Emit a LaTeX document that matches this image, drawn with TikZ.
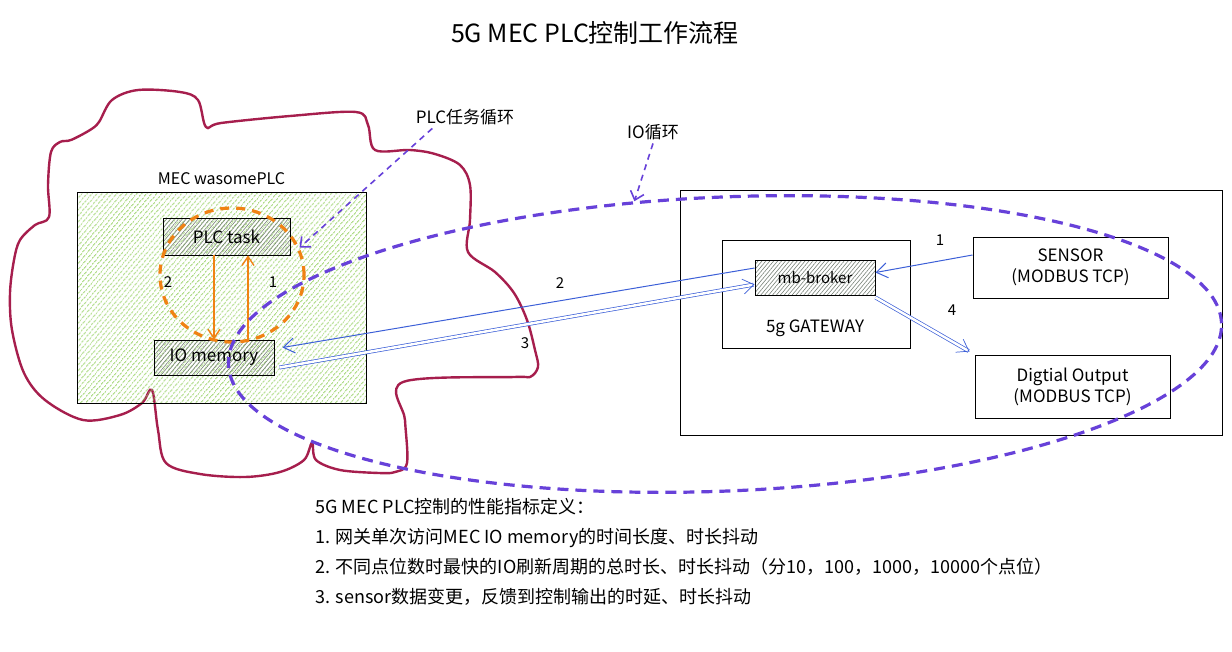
\documentclass[tikz,border=0pt]{standalone}
\usepackage{fontspec}
\setmainfont{Noto Sans CJK SC}
\usetikzlibrary{shapes.geometric,arrows.meta,patterns.meta,positioning,calc}
\definecolor{cloudred}{RGB}{166,30,77}
\definecolor{hatchgreen}{RGB}{130,200,70}
\definecolor{hatchgray}{RGB}{120,130,120}
\definecolor{loopor}{RGB}{240,130,20}
\definecolor{looppurple}{RGB}{103,65,217}
\definecolor{linkblue}{RGB}{60,95,215}

\begin{document}
\begin{tikzpicture}[x=1pt, y=-1pt,
    lbl/.style={font=\fontsize{17}{21}\selectfont, align=center},
    numlbl/.style={font=\fontsize{15}{18}\selectfont},
    plainbox/.style={rectangle, draw=black, line width=1pt, inner sep=0pt},
    hatchbox/.style={plainbox, pattern={Lines[angle=50,distance=3pt,line width=0.6pt]}, pattern color=hatchgray},
    greenbox/.style={plainbox, pattern={Lines[angle=50,distance=4pt,line width=1pt]}, pattern color=hatchgreen},
    taskloop/.style={ellipse, draw=loopor, line width=3.2pt, dash pattern=on 9pt off 7pt, inner sep=0pt},
    ioloopst/.style={ellipse, draw=looppurple, line width=3.2pt, dash pattern=on 11pt off 7pt, inner sep=0pt},
    orarrow/.style={draw=loopor, line width=1.4pt, -{Straight Barb[length=9pt,width=12pt]}},
    bluearrow/.style={color=linkblue, line width=1pt, -{Straight Barb[length=11pt,width=15pt]}},
    bluedouble/.style={color=linkblue, double, double distance=2.5pt, line width=0.7pt, -{Straight Barb[length=11pt,width=15pt]}},
    hint/.style={color=looppurple, line width=1.6pt, dash pattern=on 6pt off 5pt, -{Straight Barb[length=8pt,width=14pt]}}
]
\useasboundingbox (0,0) rectangle (1232,651);

% Title
\node[font=\fontsize{25}{30}\selectfont] (title) at (595,33) {5G MEC PLC控制工作流程};

% MEC cloud
\draw[cloudred, line width=2.4pt] plot[smooth cycle, tension=0.55] coordinates {
  (99,122) (112,100) (138,90) (180,92) (198,100) (206,127) (221,123) (290,116)
  (356,112) (368,125) (375,150) (410,150) (435,154) (460,165) (470,185) (470,220)
  (468,252) (495,272) (514,293) (527,320) (535,350) (538,367) (530,377) (514,377)
  (403,382) (405,420) (407,463) (395,472) (379,473) (340,470) (316,460) (312,443)
  (304,460) (280,472) (245,477) (200,474) (166,463) (158,430) (152,390) (142,403)
  (120,415) (83,420) (45,400) (24,373) (12,330) (10,293) (14,260) (20,240)
  (35,225) (49,217) (48,185) (51,152) (60,142) (71,140) (90,130)};

% MEC wasomePLC
\node[greenbox, minimum width=289, minimum height=211] (mec) at (221.5,297.5) {};
\node[lbl, font=\fontsize{16}{20}\selectfont, above=3pt of mec.north] (meclbl) {MEC wasomePLC};
\node[hatchbox, minimum width=127, minimum height=37, lbl] (plc) at (226.5,236.5) {PLC task};
\node[hatchbox, minimum width=120, minimum height=35, lbl] (io) at (214,357.5) {IO memory};

% PLC task loop
\node[taskloop, minimum width=144, minimum height=134] (plcloop) at (232,275) {};
\node[numlbl] (t2) at (168,282) {2};
\node[numlbl] (t1) at (273,282) {1};
\draw[orarrow] ([xshift=34pt]io.north) -- ([xshift=21.5pt]plc.south);
\draw[orarrow] (plc.south -| io.north) -- (io.north);

% Field side
\node[plainbox, minimum width=542, minimum height=245] (field) at (951,312.5) {};
\node[plainbox, minimum width=188, minimum height=108] (gw) at (816,294) {};
\node[lbl] (gwlbl) at (815,328) {5g GATEWAY};
\node[hatchbox, minimum width=120, minimum height=35, lbl, font=\fontsize{15}{18}\selectfont] (broker) at (815,277.5) {mb-broker};
\node[plainbox, minimum width=195, minimum height=61, lbl] (sensor) at (1070.5,267.5) {SENSOR\\(MODBUS TCP)};
\node[plainbox, minimum width=195, minimum height=63, lbl] (dout) at (1072.5,386.5) {Digtial Output\\(MODBUS TCP)};

% IO links
\draw[bluearrow] ([yshift=12.5pt]sensor.west) -- ([yshift=5pt]broker.east);
\node[numlbl] (l1) at (940,240) {1};
\draw[bluedouble] ([yshift=-2pt]broker.south east) -- ([xshift=-5pt,yshift=3pt]dout.north west);
\node[numlbl] (l4) at (952,310) {4};
\draw[bluearrow] ([yshift=9.5pt]broker.west) -- ([xshift=8pt,yshift=10pt]io.east);
\node[numlbl] (l2) at (560,283) {2};
\draw[bluedouble] ([xshift=5pt,yshift=-10pt]io.east) -- ([yshift=-7pt]broker.west);
\node[numlbl] (l3) at (525,343) {3};

% IO loop
\node[ioloopst, minimum width=994, minimum height=294, rotate=2.4] (ioloop) at (725,344) {};

% Loop hints
\node[lbl] (tasklbl) at (465,117) {PLC任务循环};
\draw[hint] ([xshift=20pt]tasklbl.south west) -- (plcloop.22);
\node[lbl] (iolbl) at (653,132) {IO循环};
\draw[hint] (iolbl.south) -- (ioloop.120);

% Metrics
\node[anchor=west, font=\fontsize{18}{30}\selectfont, align=left] (metrics) at (312,552) {5G MEC PLC控制的性能指标定义：\\
1. 网关单次访问MEC IO memory的时间长度、时长抖动\\
2. 不同点位数时最快的IO刷新周期的总时长、时长抖动（分10，100，1000，10000个点位）\\
3. sensor数据变更，反馈到控制输出的时延、时长抖动};

\end{tikzpicture}
\end{document}
